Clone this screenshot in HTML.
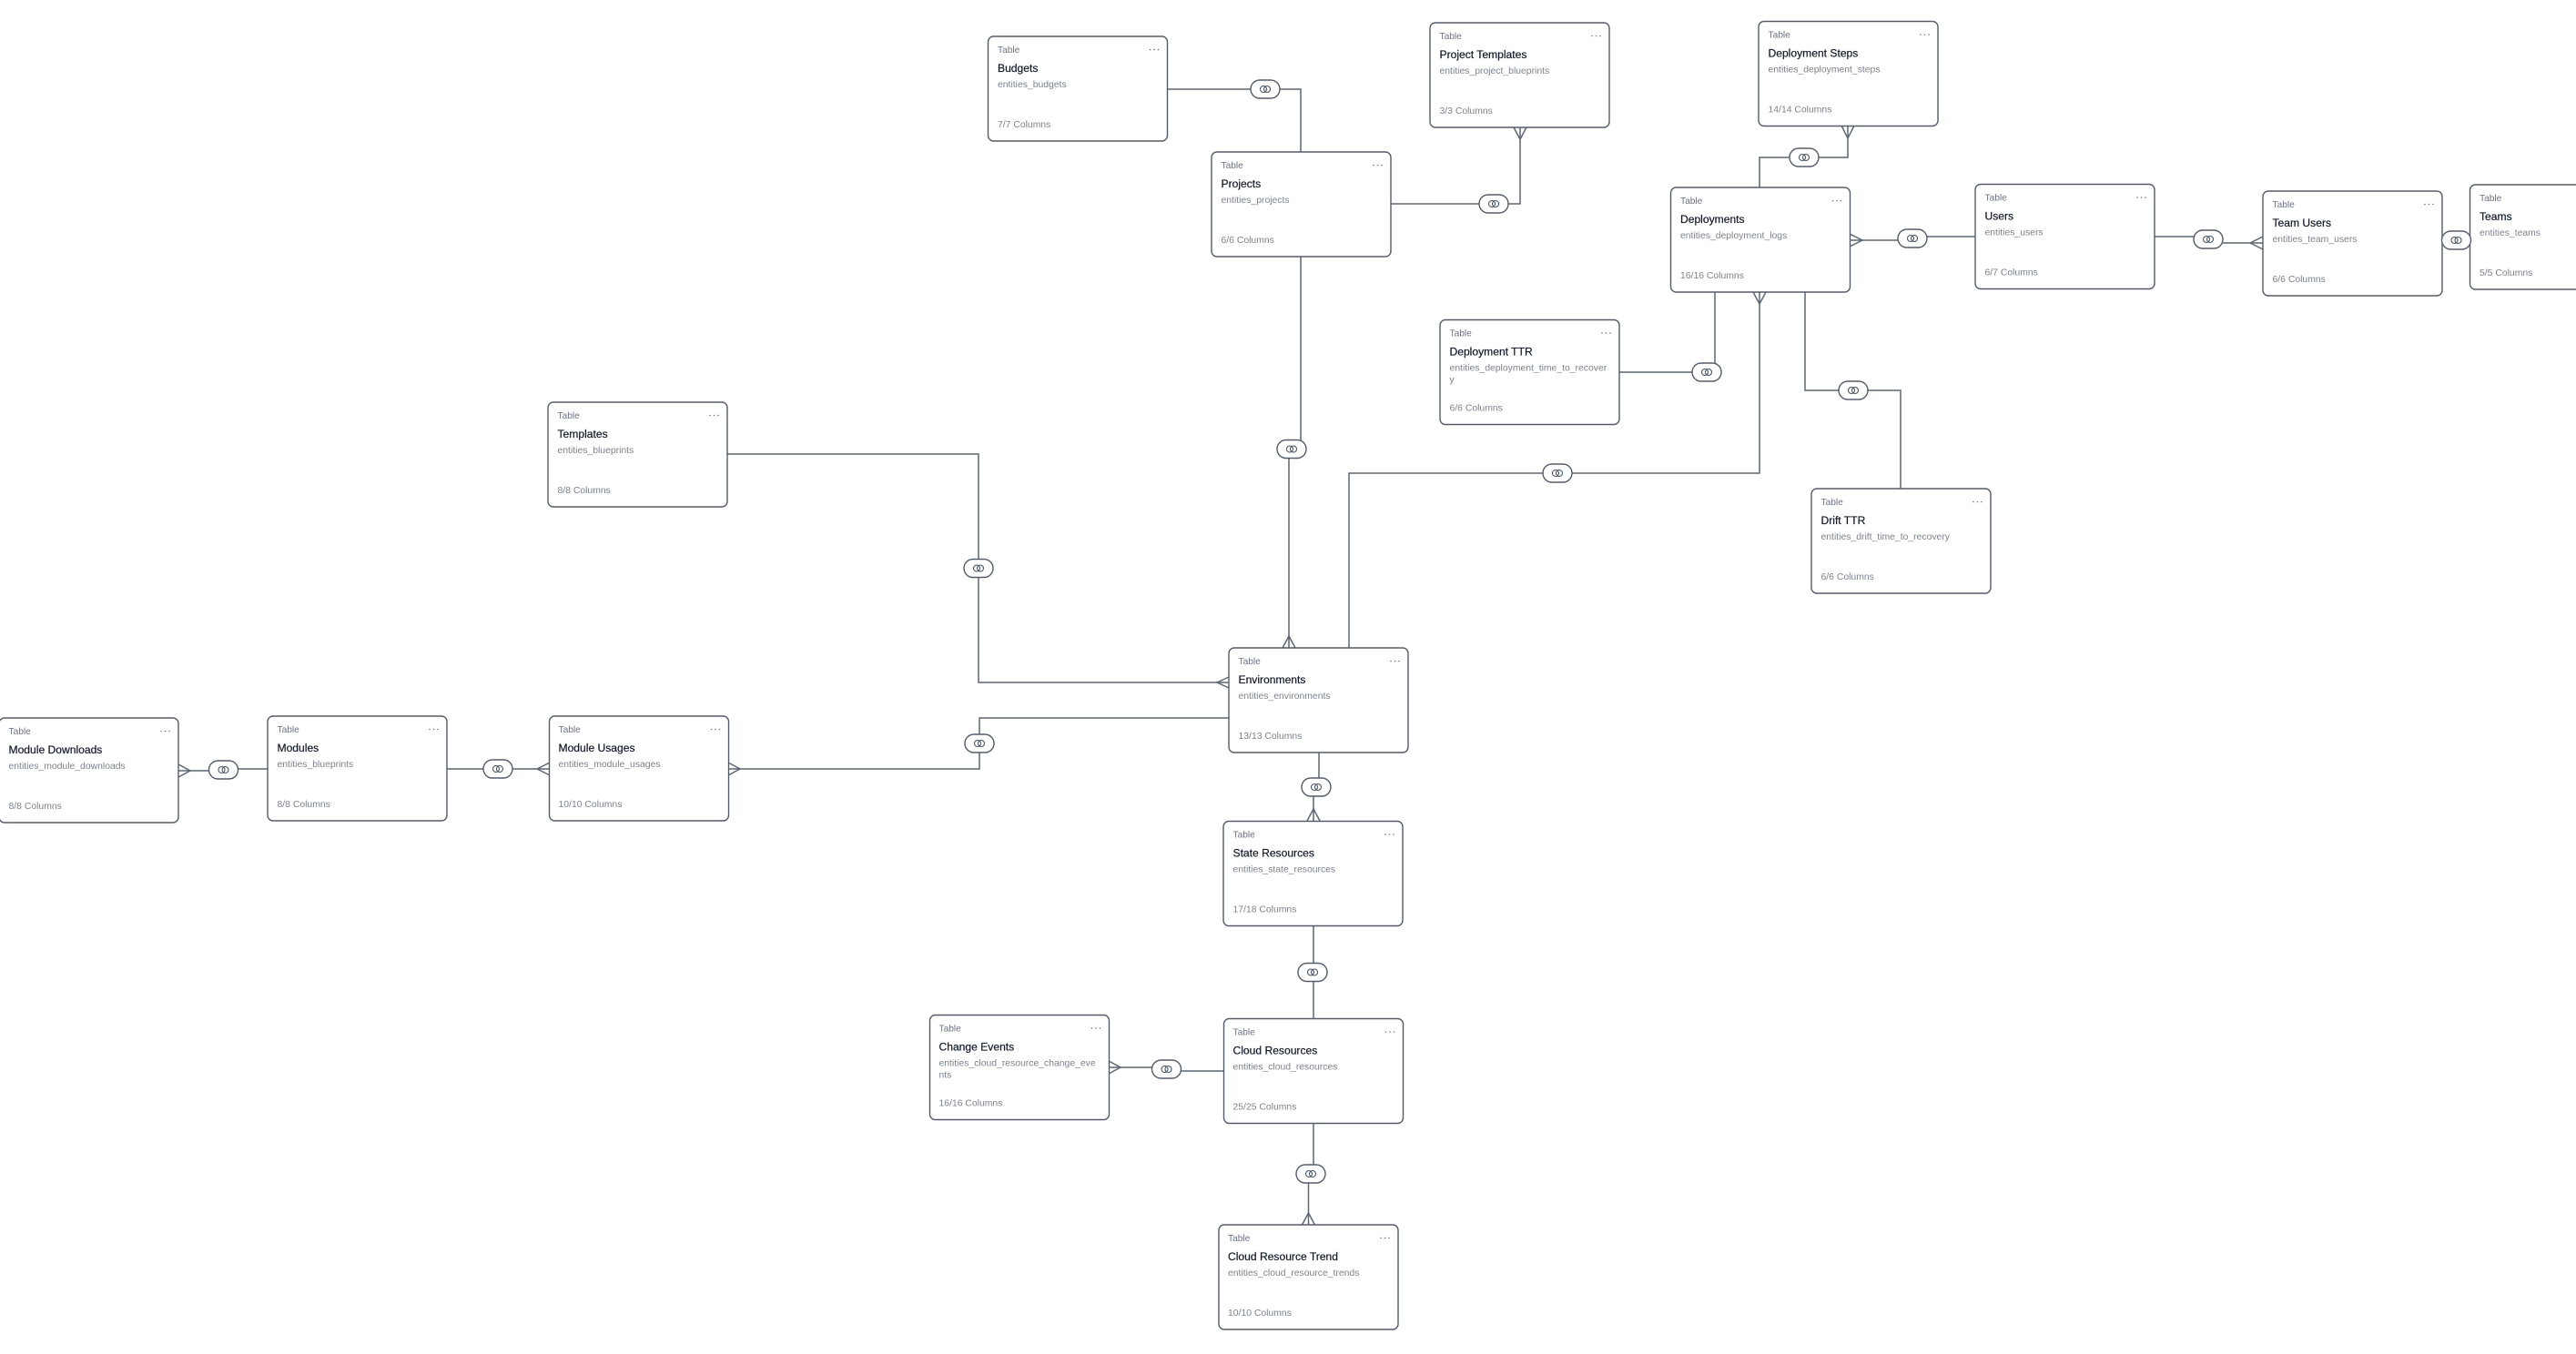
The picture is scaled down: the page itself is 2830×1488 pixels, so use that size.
<!DOCTYPE html>
<html lang="en">
<head>
<meta charset="utf-8">
<title>Entity diagram</title>
<style>
html,body{margin:0;padding:0;background:#fff;width:2830px;height:1488px;overflow:hidden}
svg{display:block;font-family:"Liberation Sans",sans-serif}
.l{fill:none;stroke:#5f6673;stroke-width:1.5}
.c{fill:#fff;stroke:#555c69;stroke-width:1.4}
.p{fill:#fff;stroke:#555c69;stroke-width:1.4}
.i{fill:none;stroke:#4b5563;stroke-width:1.1}
.d{fill:#6b7280}
.k,.t,.e,.n{transform:translateY(.8px)}
.k{font-size:10.2px;fill:#6b7280}
.t{font-size:12.1px;fill:#111827;stroke:#111827;stroke-width:.2}
.e{font-size:10.4px;fill:#7c828d}
.n{font-size:10.4px;fill:#7c828d}
</style>
</head>
<body>
<svg width="2830" height="1488" viewBox="0 0 2830 1488" xmlns="http://www.w3.org/2000/svg">
<rect width="2830" height="1488" fill="#fff"/>
<g class="l">
<path d="M1283 98H1429V167"/>
<path d="M1527 224H1670V140"/>
<path d="M1429 282V493H1416V712"/>
<path d="M1933 206V173H2030V138"/>
<path d="M2032 264H2101V260H2170"/>
<path d="M2367 260H2426V267H2486"/>
<path d="M2683 264H2713"/>
<path d="M1779 409H1884V321"/>
<path d="M1482 712V520H1933V321"/>
<path d="M1983 321V429H2088V537"/>
<path d="M799 499H1075V750H1350"/>
<path d="M1350 789H1076V845H800"/>
<path d="M196 847H246V845H294"/>
<path d="M491 845H604"/>
<path d="M1449 827V865H1443V902"/>
<path d="M1443 1017V1120"/>
<path d="M1218 1173H1281V1177H1345"/>
<path d="M1443 1234V1290H1437.5V1346"/>
<path d="M1663 140L1670 153L1677 140"/>
<path d="M2023 138L2030 152L2037 138"/>
<path d="M1409 712L1416 699L1423 712"/>
<path d="M1350 744L1337 750L1350 756"/>
<path d="M1926 321L1933 334L1940 321"/>
<path d="M2032 257L2046 264L2032 271"/>
<path d="M2486 260L2472 267L2486 274"/>
<path d="M1436 902L1443 889L1450 902"/>
<path d="M196 840L209 847L196 854"/>
<path d="M604 838L590 845L604 852"/>
<path d="M800 838L813 845L800 852"/>
<path d="M1218 1166L1231 1173L1218 1180"/>
<path d="M1430.5 1346L1437.5 1333L1444.5 1346"/>
</g>

<g transform="translate(1085.5,40)"><rect class="c" width="197" height="115" rx="6"/><text class="k" x="10.5" y="17">Table</text><circle class="d" cx="178" cy="14.5" r=".8"/><circle class="d" cx="182.5" cy="14.5" r=".8"/><circle class="d" cx="187" cy="14.5" r=".8"/><text class="t" x="10.5" y="38">Budgets</text><text class="e" x="10.5" y="55">entities_budgets</text><text class="n" x="10.5" y="99">7/7 Columns</text></g>
<g transform="translate(1571,25)"><rect class="c" width="197" height="115" rx="6"/><text class="k" x="10.5" y="17">Table</text><circle class="d" cx="178" cy="14.5" r=".8"/><circle class="d" cx="182.5" cy="14.5" r=".8"/><circle class="d" cx="187" cy="14.5" r=".8"/><text class="t" x="10.5" y="38">Project Templates</text><text class="e" x="10.5" y="55">entities_project_blueprints</text><text class="n" x="10.5" y="99">3/3 Columns</text></g>
<g transform="translate(1932,23.5)"><rect class="c" width="197" height="115" rx="6"/><text class="k" x="10.5" y="17">Table</text><circle class="d" cx="178" cy="14.5" r=".8"/><circle class="d" cx="182.5" cy="14.5" r=".8"/><circle class="d" cx="187" cy="14.5" r=".8"/><text class="t" x="10.5" y="38">Deployment Steps</text><text class="e" x="10.5" y="55">entities_deployment_steps</text><text class="n" x="10.5" y="99">14/14 Columns</text></g>
<g transform="translate(1331,167)"><rect class="c" width="197" height="115" rx="6"/><text class="k" x="10.5" y="17">Table</text><circle class="d" cx="178" cy="14.5" r=".8"/><circle class="d" cx="182.5" cy="14.5" r=".8"/><circle class="d" cx="187" cy="14.5" r=".8"/><text class="t" x="10.5" y="38">Projects</text><text class="e" x="10.5" y="55">entities_projects</text><text class="n" x="10.5" y="99">6/6 Columns</text></g>
<g transform="translate(1835.5,206)"><rect class="c" width="197" height="115" rx="6"/><text class="k" x="10.5" y="17">Table</text><circle class="d" cx="178" cy="14.5" r=".8"/><circle class="d" cx="182.5" cy="14.5" r=".8"/><circle class="d" cx="187" cy="14.5" r=".8"/><text class="t" x="10.5" y="38">Deployments</text><text class="e" x="10.5" y="55">entities_deployment_logs</text><text class="n" x="10.5" y="99">16/16 Columns</text></g>
<g transform="translate(2170,202.5)"><rect class="c" width="197" height="115" rx="6"/><text class="k" x="10.5" y="17">Table</text><circle class="d" cx="178" cy="14.5" r=".8"/><circle class="d" cx="182.5" cy="14.5" r=".8"/><circle class="d" cx="187" cy="14.5" r=".8"/><text class="t" x="10.5" y="38">Users</text><text class="e" x="10.5" y="55">entities_users</text><text class="n" x="10.5" y="99">6/7 Columns</text></g>
<g transform="translate(2486,210)"><rect class="c" width="197" height="115" rx="6"/><text class="k" x="10.5" y="17">Table</text><circle class="d" cx="178" cy="14.5" r=".8"/><circle class="d" cx="182.5" cy="14.5" r=".8"/><circle class="d" cx="187" cy="14.5" r=".8"/><text class="t" x="10.5" y="38">Team Users</text><text class="e" x="10.5" y="55">entities_team_users</text><text class="n" x="10.5" y="99">6/6 Columns</text></g>
<g transform="translate(2713.5,203)"><rect class="c" width="197" height="115" rx="6"/><text class="k" x="10.5" y="17">Table</text><text class="t" x="10.5" y="38">Teams</text><text class="e" x="10.5" y="55">entities_teams</text><text class="n" x="10.5" y="99">5/5 Columns</text></g>
<g transform="translate(1582,351.5)"><rect class="c" width="197" height="115" rx="6"/><text class="k" x="10.5" y="17">Table</text><circle class="d" cx="178" cy="14.5" r=".8"/><circle class="d" cx="182.5" cy="14.5" r=".8"/><circle class="d" cx="187" cy="14.5" r=".8"/><text class="t" x="10.5" y="38">Deployment TTR</text><text class="e" x="10.5" y="55">entities_deployment_time_to_recover</text><text class="e" x="10.5" y="68">y</text><text class="n" x="10.5" y="99">6/6 Columns</text></g>
<g transform="translate(1990,537)"><rect class="c" width="197" height="115" rx="6"/><text class="k" x="10.5" y="17">Table</text><circle class="d" cx="178" cy="14.5" r=".8"/><circle class="d" cx="182.5" cy="14.5" r=".8"/><circle class="d" cx="187" cy="14.5" r=".8"/><text class="t" x="10.5" y="38">Drift TTR</text><text class="e" x="10.5" y="55">entities_drift_time_to_recovery</text><text class="n" x="10.5" y="99">6/6 Columns</text></g>
<g transform="translate(602,442)"><rect class="c" width="197" height="115" rx="6"/><text class="k" x="10.5" y="17">Table</text><circle class="d" cx="178" cy="14.5" r=".8"/><circle class="d" cx="182.5" cy="14.5" r=".8"/><circle class="d" cx="187" cy="14.5" r=".8"/><text class="t" x="10.5" y="38">Templates</text><text class="e" x="10.5" y="55">entities_blueprints</text><text class="n" x="10.5" y="99">8/8 Columns</text></g>
<g transform="translate(1350,712)"><rect class="c" width="197" height="115" rx="6"/><text class="k" x="10.5" y="17">Table</text><circle class="d" cx="178" cy="14.5" r=".8"/><circle class="d" cx="182.5" cy="14.5" r=".8"/><circle class="d" cx="187" cy="14.5" r=".8"/><text class="t" x="10.5" y="38">Environments</text><text class="e" x="10.5" y="55">entities_environments</text><text class="n" x="10.5" y="99">13/13 Columns</text></g>
<g transform="translate(-1,789)"><rect class="c" width="197" height="115" rx="6"/><text class="k" x="10.5" y="17">Table</text><circle class="d" cx="178" cy="14.5" r=".8"/><circle class="d" cx="182.5" cy="14.5" r=".8"/><circle class="d" cx="187" cy="14.5" r=".8"/><text class="t" x="10.5" y="38">Module Downloads</text><text class="e" x="10.5" y="55">entities_module_downloads</text><text class="n" x="10.5" y="99">8/8 Columns</text></g>
<g transform="translate(294,787)"><rect class="c" width="197" height="115" rx="6"/><text class="k" x="10.5" y="17">Table</text><circle class="d" cx="178" cy="14.5" r=".8"/><circle class="d" cx="182.5" cy="14.5" r=".8"/><circle class="d" cx="187" cy="14.5" r=".8"/><text class="t" x="10.5" y="38">Modules</text><text class="e" x="10.5" y="55">entities_blueprints</text><text class="n" x="10.5" y="99">8/8 Columns</text></g>
<g transform="translate(603.5,787)"><rect class="c" width="197" height="115" rx="6"/><text class="k" x="10" y="17">Table</text><circle class="d" cx="178" cy="14.5" r=".8"/><circle class="d" cx="182.5" cy="14.5" r=".8"/><circle class="d" cx="187" cy="14.5" r=".8"/><text class="t" x="10" y="38">Module Usages</text><text class="e" x="10" y="55">entities_module_usages</text><text class="n" x="10" y="99">10/10 Columns</text></g>
<g transform="translate(1344,902.5)"><rect class="c" width="197" height="115" rx="6"/><text class="k" x="10.5" y="17">Table</text><circle class="d" cx="178" cy="14.5" r=".8"/><circle class="d" cx="182.5" cy="14.5" r=".8"/><circle class="d" cx="187" cy="14.5" r=".8"/><text class="t" x="10.5" y="38">State Resources</text><text class="e" x="10.5" y="55">entities_state_resources</text><text class="n" x="10.5" y="99">17/18 Columns</text></g>
<g transform="translate(1344.5,1119.5)"><rect class="c" width="197" height="115" rx="6"/><text class="k" x="10" y="17">Table</text><circle class="d" cx="178" cy="14.5" r=".8"/><circle class="d" cx="182.5" cy="14.5" r=".8"/><circle class="d" cx="187" cy="14.5" r=".8"/><text class="t" x="10" y="38">Cloud Resources</text><text class="e" x="10" y="55">entities_cloud_resources</text><text class="n" x="10" y="99">25/25 Columns</text></g>
<g transform="translate(1021.5,1115.5)"><rect class="c" width="197" height="115" rx="6"/><text class="k" x="10" y="17">Table</text><circle class="d" cx="178" cy="14.5" r=".8"/><circle class="d" cx="182.5" cy="14.5" r=".8"/><circle class="d" cx="187" cy="14.5" r=".8"/><text class="t" x="10" y="38">Change Events</text><text class="e" x="10" y="55">entities_cloud_resource_change_eve</text><text class="e" x="10" y="68">nts</text><text class="n" x="10" y="99">16/16 Columns</text></g>
<g transform="translate(1339,1346)"><rect class="c" width="197" height="115" rx="6"/><text class="k" x="10" y="17">Table</text><circle class="d" cx="178" cy="14.5" r=".8"/><circle class="d" cx="182.5" cy="14.5" r=".8"/><circle class="d" cx="187" cy="14.5" r=".8"/><text class="t" x="10" y="38">Cloud Resource Trend</text><text class="e" x="10" y="55">entities_cloud_resource_trends</text><text class="n" x="10" y="99">10/10 Columns</text></g>

<g transform="translate(1390,98)"><rect class="p" x="-16" y="-10" width="32" height="20" rx="10"/><circle class="i" cx="-2" r="3.5"/><circle class="i" cx="2" r="3.5"/></g>
<g transform="translate(1641,224)"><rect class="p" x="-16" y="-10" width="32" height="20" rx="10"/><circle class="i" cx="-2" r="3.5"/><circle class="i" cx="2" r="3.5"/></g>
<g transform="translate(1982,173)"><rect class="p" x="-16" y="-10" width="32" height="20" rx="10"/><circle class="i" cx="-2" r="3.5"/><circle class="i" cx="2" r="3.5"/></g>
<g transform="translate(2101,262)"><rect class="p" x="-16" y="-10" width="32" height="20" rx="10"/><circle class="i" cx="-2" r="3.5"/><circle class="i" cx="2" r="3.5"/></g>
<g transform="translate(2426,263)"><rect class="p" x="-16" y="-10" width="32" height="20" rx="10"/><circle class="i" cx="-2" r="3.5"/><circle class="i" cx="2" r="3.5"/></g>
<g transform="translate(2698.5,264)"><rect class="p" x="-16" y="-10" width="32" height="20" rx="10"/><circle class="i" cx="-2" r="3.5"/><circle class="i" cx="2" r="3.5"/></g>
<g transform="translate(1875,409)"><rect class="p" x="-16" y="-10" width="32" height="20" rx="10"/><circle class="i" cx="-2" r="3.5"/><circle class="i" cx="2" r="3.5"/></g>
<g transform="translate(1711,520)"><rect class="p" x="-16" y="-10" width="32" height="20" rx="10"/><circle class="i" cx="-2" r="3.5"/><circle class="i" cx="2" r="3.5"/></g>
<g transform="translate(2036,429)"><rect class="p" x="-16" y="-10" width="32" height="20" rx="10"/><circle class="i" cx="-2" r="3.5"/><circle class="i" cx="2" r="3.5"/></g>
<g transform="translate(1419,493.5)"><rect class="p" x="-16" y="-10" width="32" height="20" rx="10"/><circle class="i" cx="-2" r="3.5"/><circle class="i" cx="2" r="3.5"/></g>
<g transform="translate(1075,624.5)"><rect class="p" x="-16" y="-10" width="32" height="20" rx="10"/><circle class="i" cx="-2" r="3.5"/><circle class="i" cx="2" r="3.5"/></g>
<g transform="translate(1076,817)"><rect class="p" x="-16" y="-10" width="32" height="20" rx="10"/><circle class="i" cx="-2" r="3.5"/><circle class="i" cx="2" r="3.5"/></g>
<g transform="translate(1446,865)"><rect class="p" x="-16" y="-10" width="32" height="20" rx="10"/><circle class="i" cx="-2" r="3.5"/><circle class="i" cx="2" r="3.5"/></g>
<g transform="translate(1442,1068.5)"><rect class="p" x="-16" y="-10" width="32" height="20" rx="10"/><circle class="i" cx="-2" r="3.5"/><circle class="i" cx="2" r="3.5"/></g>
<g transform="translate(1281.5,1175)"><rect class="p" x="-16" y="-10" width="32" height="20" rx="10"/><circle class="i" cx="-2" r="3.5"/><circle class="i" cx="2" r="3.5"/></g>
<g transform="translate(1440,1290)"><rect class="p" x="-16" y="-10" width="32" height="20" rx="10"/><circle class="i" cx="-2" r="3.5"/><circle class="i" cx="2" r="3.5"/></g>
<g transform="translate(245.5,846)"><rect class="p" x="-16" y="-10" width="32" height="20" rx="10"/><circle class="i" cx="-2" r="3.5"/><circle class="i" cx="2" r="3.5"/></g>
<g transform="translate(547,845)"><rect class="p" x="-16" y="-10" width="32" height="20" rx="10"/><circle class="i" cx="-2" r="3.5"/><circle class="i" cx="2" r="3.5"/></g>
</svg>
</body>
</html>
